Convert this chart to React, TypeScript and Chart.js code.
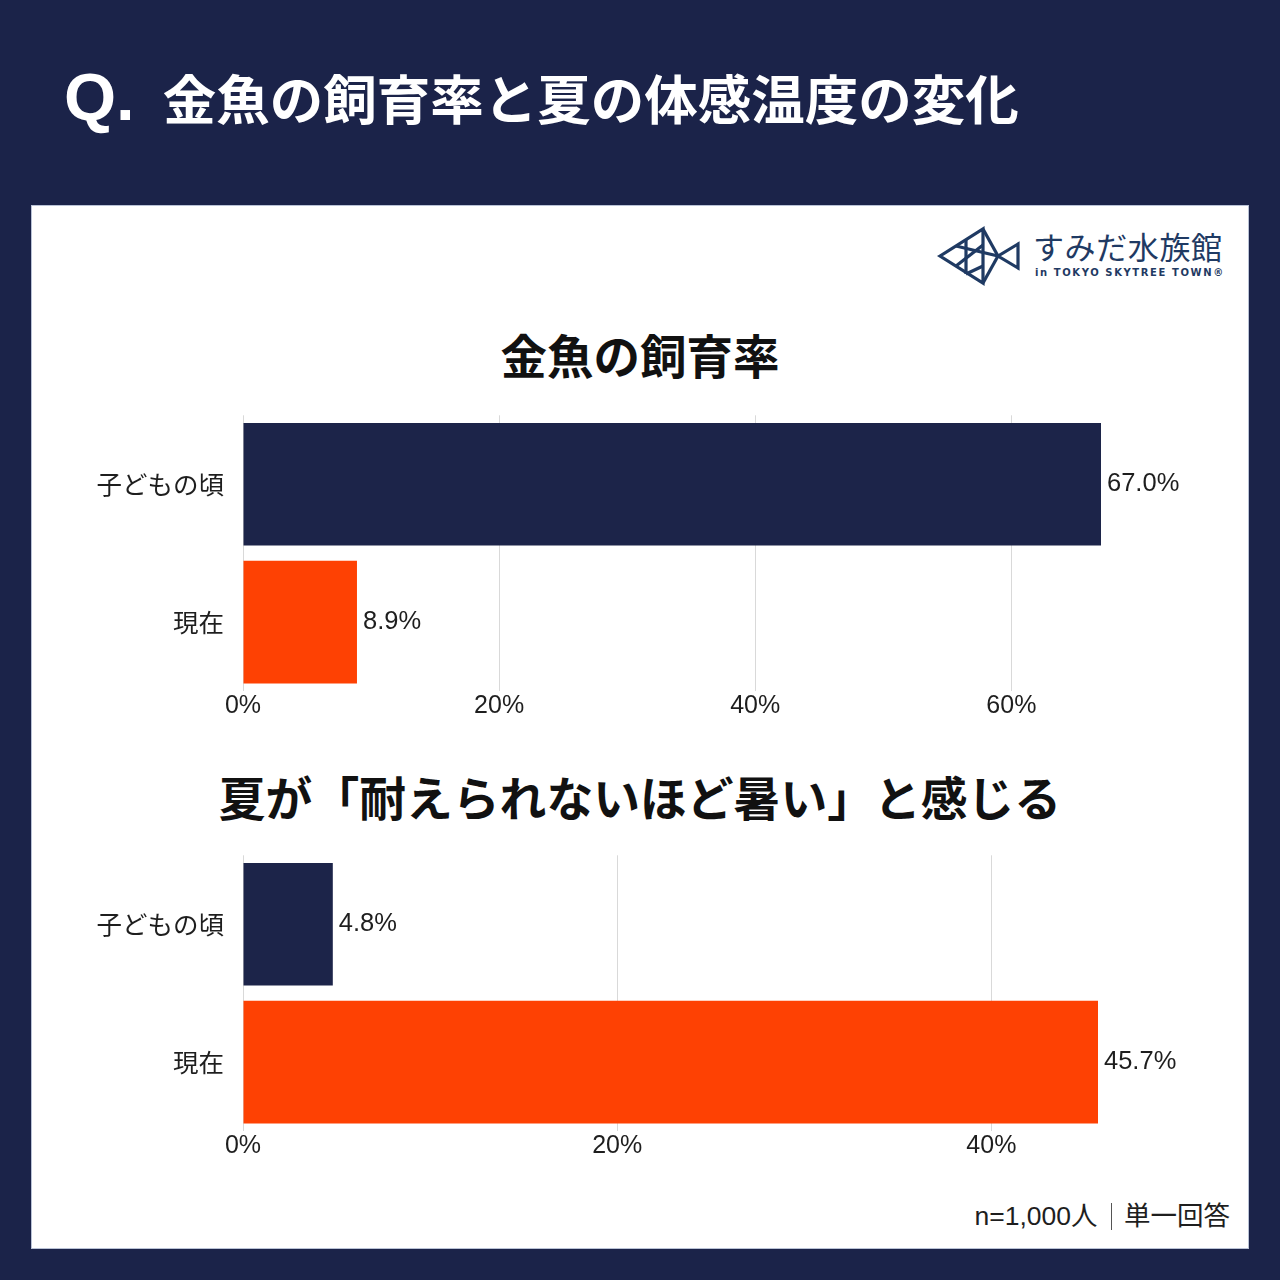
import React, { useEffect, useRef } from "react";
import { Chart, registerables } from "chart.js";

Chart.register(...registerables);

const categories = ["子どもの頃", "現在"];
const goldfishValues = [67.0, 8.9];
const heatValues = [4.8, 45.7];
const goldfishMax = 67.0;
const heatMax = 45.7;
const tickStep = 20;
const barColors = ["#1c2449", "#fe4103"];

const mainTitle = "金魚の飼育率と夏の体感温度の変化";
const chart1Title = "金魚の飼育率";
const chart2Title = "夏が「耐えられないほど暑い」と感じる";
const footnoteLeft = "n=1,000人";
const footnoteRight = "単一回答";

const LATIN = '"Liberation Sans", "Noto Sans CJK JP", sans-serif';
const CJK = '"Noto Sans CJK JP", "Liberation Sans", sans-serif';

const valueLabelPlugin = {
  id: "valueLabels",
  afterDatasetsDraw(chart: any) {
    const ctx = chart.ctx;
    ctx.save();
    ctx.font = `25.5px ${LATIN}`;
    ctx.fillStyle = "#1e1e1e";
    ctx.textAlign = "left";
    ctx.textBaseline = "middle";
    chart.data.datasets.forEach((ds: any, di: number) => {
      const meta = chart.getDatasetMeta(di);
      meta.data.forEach((bar: any, i: number) => {
        const v = ds.data[i];
        ctx.fillText(v.toFixed(1) + "%", bar.x + 6, bar.y);
      });
    });
    ctx.restore();
  },
};

function BarChart({ values, max, rightPad }: { values: number[]; max: number; rightPad: number }) {
  const ref = useRef<HTMLCanvasElement | null>(null);
  useEffect(() => {
    if (!ref.current) return;
    const chart = new Chart(ref.current, {
      type: "bar",
      data: {
        labels: categories,
        datasets: [
          {
            data: values,
            backgroundColor: barColors,
            borderWidth: 0,
            barPercentage: 0.89,
            categoryPercentage: 1,
          },
        ],
      },
      options: {
        indexAxis: "y",
        animation: false,
        responsive: false,
        devicePixelRatio: 1,
        layout: { padding: { left: 0, right: rightPad, top: 15, bottom: 0 } },
        plugins: {
          legend: { display: false },
          tooltip: { enabled: false },
          title: { display: false },
        },
        scales: {
          x: {
            min: 0,
            max: max,
            border: { display: false },
            grid: { color: "#d9d9d9", lineWidth: 1, drawTicks: false },
            ticks: {
              stepSize: tickStep,
              includeBounds: false,
              padding: 0,
              color: "#1e1e1e",
              font: { size: 25, family: LATIN },
              callback: (v: any) => v + "%",
            },
            afterFit: (s: any) => {
              s.height = 40;
            },
          },
          y: {
            border: { display: false },
            grid: { display: false, drawTicks: false },
            ticks: {
              padding: 19,
              color: "#1e1e1e",
              font: { size: 25.5, family: CJK },
            },
            afterFit: (s: any) => {
              s.width = 243;
            },
          },
        },
      },
      plugins: [valueLabelPlugin],
    } as any);
    return () => chart.destroy();
  }, []);
  return (
    <canvas
      ref={ref}
      width={1280}
      height={350}
      style={{ width: 1280, height: 350, display: "block" }}
    />
  );
}

function Logo() {
  const c = "#1f3a63";
  return (
    <div style={{ position: "absolute", left: 936, top: 224, width: 300, height: 66 }}>
      <svg width={90} height={64} style={{ position: "absolute", left: 0, top: 0 }}>
        <g fill="none" stroke={c} strokeWidth={3.2} strokeLinejoin="miter">
          <polygon points="4,32 47,5 47,59" />
          <line x1="47" y1="5" x2="62" y2="32" />
          <line x1="47" y1="59" x2="62" y2="32" />
          <line x1="20" y1="22" x2="62" y2="32" />
          <line x1="20" y1="42" x2="47" y2="21" />
          <line x1="30" y1="15" x2="30" y2="50" />
          <line x1="30" y1="50" x2="47" y2="42" />
          <polygon points="62,32 82,20 82,44" />
        </g>
      </svg>
      <div
        style={{
          position: "absolute",
          left: 97,
          top: 4,
          fontFamily: CJK,
          fontSize: 31,
          color: c,
          letterSpacing: 0.6,
          lineHeight: "36px",
          whiteSpace: "nowrap",
        }}
      >
        すみだ水族館
      </div>
      <div
        style={{
          position: "absolute",
          left: 99,
          top: 43,
          fontFamily: '"DejaVu Sans", sans-serif',
          fontWeight: 700,
          fontSize: 10,
          color: c,
          letterSpacing: 1.6,
          lineHeight: "12px",
          whiteSpace: "nowrap",
        }}
      >
        in TOKYO SKYTREE TOWN®
      </div>
    </div>
  );
}

export default function App() {
  return (
    <div
      style={{
        position: "absolute",
        left: 0,
        top: 0,
        width: 1280,
        height: 1280,
        background: "#1b2349",
        overflow: "hidden",
      }}
    >
      <div
        style={{
          position: "absolute",
          left: 64,
          top: 59,
          color: "#ffffff",
          whiteSpace: "nowrap",
          lineHeight: "76px",
        }}
      >
        <span style={{ fontFamily: LATIN, fontWeight: 700, fontSize: 67 }}>Q.</span>
        <span style={{ fontFamily: CJK, fontWeight: 700, fontSize: 53.5, marginLeft: 28 }}>{mainTitle}</span>
      </div>
      <div
        style={{
          position: "absolute",
          left: 31,
          top: 205,
          width: 1218,
          height: 1044,
          background: "#ffffff",
          boxSizing: "border-box",
          border: "1px solid #b9c2d6",
        }}
      />
      <Logo />
      <div
        style={{
          position: "absolute",
          left: 0,
          top: 326,
          width: 1280,
          textAlign: "center",
          fontFamily: CJK,
          fontWeight: 700,
          fontSize: 46.5,
          lineHeight: "56px",
          color: "#111111",
        }}
      >
        {chart1Title}
      </div>
      <div style={{ position: "absolute", left: 0, top: 381 }}>
        <BarChart values={goldfishValues} max={goldfishMax} rightPad={179} />
      </div>
      <div
        style={{
          position: "absolute",
          left: 0,
          top: 768,
          width: 1280,
          textAlign: "center",
          fontFamily: CJK,
          fontWeight: 700,
          fontSize: 46.8,
          lineHeight: "56px",
          color: "#111111",
        }}
      >
        {chart2Title}
      </div>
      <div style={{ position: "absolute", left: 0, top: 821 }}>
        <BarChart values={heatValues} max={heatMax} rightPad={182} />
      </div>
      <div
        style={{
          position: "absolute",
          right: 50,
          top: 1199,
          fontFamily: LATIN,
          fontSize: 26.5,
          lineHeight: "34px",
          color: "#1e1e1e",
          whiteSpace: "nowrap",
          display: "flex",
          alignItems: "center",
        }}
      >
        <span>{footnoteLeft}</span>
        <span
          style={{
            display: "inline-block",
            width: 1.5,
            height: 27,
            background: "#555555",
            margin: "0 12px 0 13px",
          }}
        />
        <span>{footnoteRight}</span>
      </div>
    </div>
  );
}
